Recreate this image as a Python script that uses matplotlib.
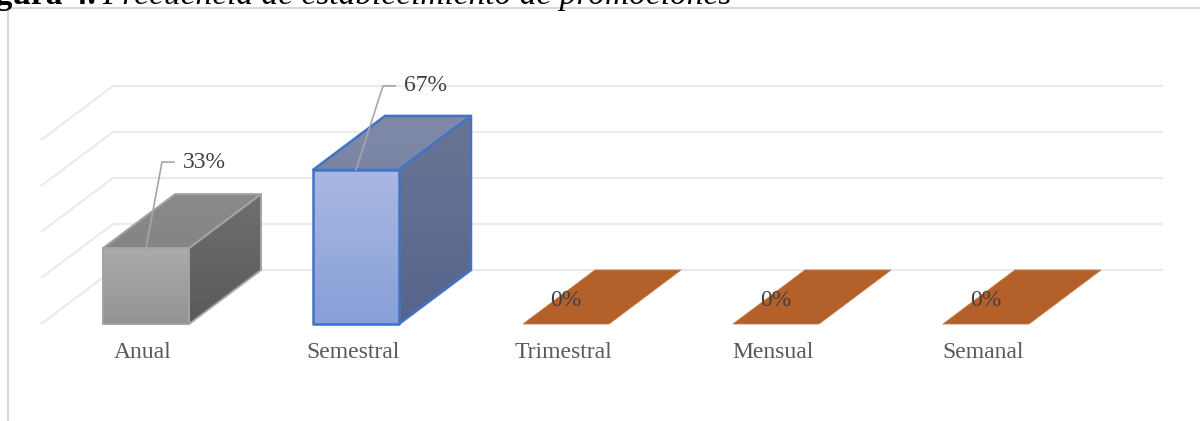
import numpy as np
import matplotlib.pyplot as plt
from matplotlib.patches import Polygon
from matplotlib.colors import LinearSegmentedColormap
from matplotlib.lines import Line2D

categorias = ["Anual", "Semestral", "Trimestral", "Mensual", "Semanal"]
porcentajes = [33, 67, 0, 0, 0]
etiquetas = ["33%", "67%", "0%", "0%", "0%"]
marcas_eje = [0, 20, 40, 60, 80]

plt.rcParams["font.family"] = ["Liberation Serif", "DejaVu Serif"]

W, H = 1200, 421
fig = plt.figure(figsize=(W / 100, H / 100), dpi=100)
ax = fig.add_axes([0, 0, 1, 1])
ax.axis("off")

# escala en pixeles: 210 px por categoria, 2.3 px por punto porcentual
PX_CAT = 210.0
PX_PCT = 2.3
x0, y0 = 146, 324          # centro de la primera categoria, suelo frontal
xlim = (-x0 / PX_CAT, (W - x0) / PX_CAT)
ylim = (-(H - y0) / PX_PCT, y0 / PX_PCT)

ancho = 86 / PX_CAT
dx = 72 / PX_CAT           # profundidad del efecto 3D
dy = 54 / PX_PCT
n = len(categorias)

# paredes: lineas de division en el fondo y el lateral
for v in marcas_eje:
    ax.plot([-0.5, -0.5 + dx, n - 0.5 + dx], [v, v + dy, v + dy],
            color="#ebebeb", lw=1.6, zorder=1, solid_capstyle="butt")


def cara(verts, c_sup, c_inf, borde, lw, z):
    poly = Polygon(verts, closed=True, facecolor="none", edgecolor=borde,
                   lw=lw, zorder=z + 0.1, joinstyle="round")
    ax.add_patch(poly)
    xs, ys = zip(*verts)
    cmap = LinearSegmentedColormap.from_list("g", [c_inf, c_sup])
    grad = np.linspace(0, 1, 128).reshape(-1, 1)
    im = ax.imshow(grad, cmap=cmap, origin="lower", aspect="auto",
                   extent=(min(xs), max(xs), min(ys), max(ys)),
                   interpolation="bilinear", zorder=z)
    im.set_clip_path(poly)


estilos = [
    dict(frente=("#ababab", "#939393"), techo=("#8a8a8a", "#858585"),
         lado=("#6f6f6f", "#5a5a5a"), borde="#a3a3a3", lw=1.4),
    dict(frente=("#aab8e2", "#87a0d8"), techo=("#8089a8", "#7a85a5"),
         lado=("#6b7696", "#55648b"), borde="#4472c4", lw=1.8),
]
naranja = "#b4602a"

for i, v in enumerate(porcentajes):
    x1, x2 = i - ancho / 2, i + ancho / 2
    techo = [(x1, v), (x2, v), (x2 + dx, v + dy), (x1 + dx, v + dy)]
    if v == 0:
        ax.add_patch(Polygon(techo, closed=True, facecolor=naranja,
                             edgecolor="#c47a45", lw=0.6, zorder=3))
        continue
    e = estilos[i]
    frente = [(x1, 0), (x2, 0), (x2, v), (x1, v)]
    lado = [(x2, 0), (x2 + dx, dy), (x2 + dx, v + dy), (x2, v)]
    cara(lado, *e["lado"], e["borde"], e["lw"], 3)
    cara(techo, *e["techo"], e["borde"], e["lw"], 3)
    cara(frente, *e["frente"], e["borde"], e["lw"], 4)

# etiquetas de datos, con linea guia en las barras con valor
guias = [(16, 86), (27, 84), None, None, None]
for i, (v, txt) in enumerate(zip(porcentajes, etiquetas)):
    g = guias[i]
    if g is None:
        ax.text(i, v + 23 / PX_PCT, txt, ha="center", va="center",
                fontsize=17, color="#404040", zorder=6)
        continue
    ex, ey = i + g[0] / PX_CAT, v + g[1] / PX_PCT
    ax.plot([i, ex, ex + 12 / PX_CAT], [v, ey, ey], color="#a6a6a6",
            lw=1.2, zorder=6)
    ax.text(ex + 21 / PX_CAT, ey, txt, ha="left", va="center",
            fontsize=17, color="#404040", zorder=6)

for i, c in enumerate(categorias):
    ax.text(i - 3 / PX_CAT, -28 / PX_PCT, c, ha="center", va="center",
            fontsize=17, color="#595959")

ax.set_xlim(*xlim)
ax.set_ylim(*ylim)

# marco del grafico
fig.add_artist(Line2D([8 / W, 8 / W], [0, 1 - 8 / H], transform=fig.transFigure,
                      color="#d9d9d9", lw=1.5))
fig.add_artist(Line2D([8 / W, 1], [1 - 8 / H, 1 - 8 / H], transform=fig.transFigure,
                      color="#d9d9d9", lw=1.5))

# titulo de la figura (queda recortado arriba)
t1 = fig.text(-34 / W, 1 - 4 / H, "Figura 4.", fontsize=24, fontweight="bold",
              color="black", va="baseline", ha="left")
fig.canvas.draw()
bb = t1.get_window_extent()
fig.text(bb.x1 / W + 6 / W, 1 - 4 / H,
         "Frecuencia de establecimiento de promociones", fontsize=24,
         fontstyle="italic", color="black", va="baseline", ha="left")

fig.savefig("out.png", dpi=100)
